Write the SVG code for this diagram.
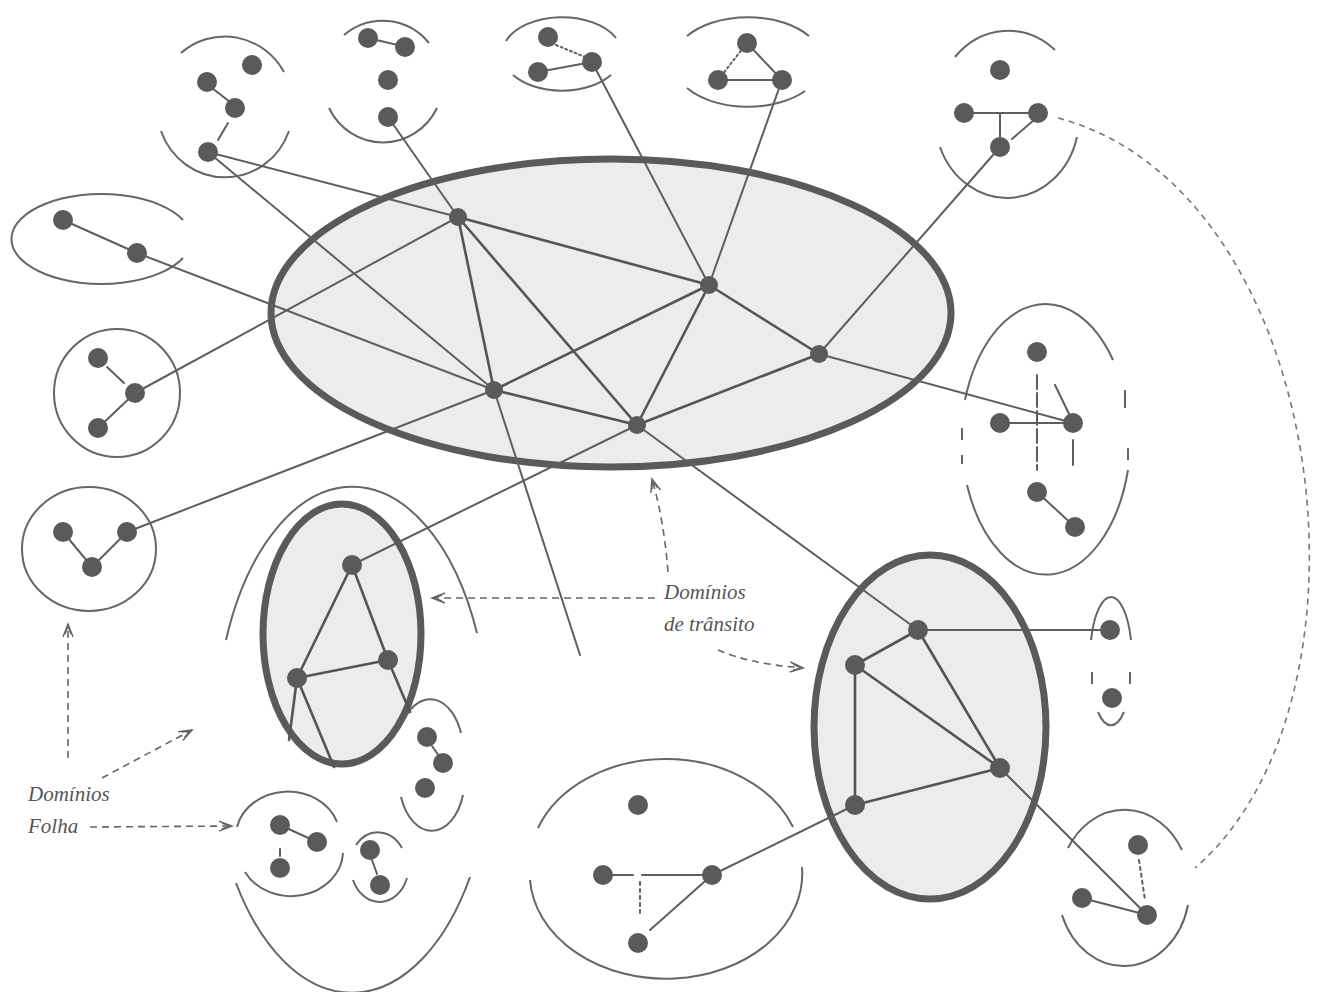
<svg xmlns="http://www.w3.org/2000/svg" width="1317" height="992" viewBox="0 0 1317 992">
<style>
.bg{fill:#ffffff}
.transit{fill:#ececec;stroke:#5a5a5a;stroke-width:7}
.leaf{fill:none;stroke:#666;stroke-width:2}
.n{fill:#5a5a5a}
.ln{stroke:#5e5e5e;stroke-width:2;fill:none;stroke-linecap:round}
.tl{stroke:#555;stroke-width:2.6;fill:none;stroke-linecap:round}
.dash{stroke:#777;stroke-width:1.6;fill:none;stroke-dasharray:6 5}
.arr{stroke:#666;stroke-width:1.6;fill:none;stroke-dasharray:7 5}
.lbl{font-family:"Liberation Serif",serif;font-style:italic;font-size:21px;fill:#555}
</style>
<defs>
<marker id="ah" markerWidth="16" markerHeight="12" refX="14" refY="6" orient="auto" markerUnits="userSpaceOnUse">
<path d="M1,1 L14,6 L1,11 M4,3 L12,6 L4,9" fill="none" stroke="#666" stroke-width="1.5"/>
</marker>
</defs>
<rect class="bg" x="0" y="0" width="1317" height="992"/>

<!-- transit domain ellipses -->
<g id="transit-main-shape"><ellipse class="transit" cx="611" cy="313" rx="340" ry="154"/></g>
<g id="transit-left-shape"><ellipse class="transit" cx="342" cy="634" rx="79" ry="130"/></g>
<g id="transit-right-shape"><ellipse class="transit" cx="930" cy="727" rx="116" ry="172"/></g>

<!-- leaf domains -->
<g id="leaf-G">
<path class="leaf" d="M181,53 A68,70 0 0 1 284,72"/>
<path class="leaf" d="M289,131 A68,70 0 0 1 161,131"/>
<path class="ln" d="M212,88 L230,102 M228,123 L218,140"/>
<circle class="n" cx="252" cy="65" r="10"/><circle class="n" cx="207" cy="82" r="10"/><circle class="n" cx="235" cy="108" r="10"/><circle class="n" cx="208" cy="152" r="10"/>
</g>
<g id="leaf-H">
<path class="leaf" d="M344,35 A60,61 0 0 1 429,43"/>
<path class="leaf" d="M437,108 A60,61 0 0 1 329,108"/>
<path class="ln" d="M372,39 L402,46"/>
<circle class="n" cx="368" cy="38" r="10"/><circle class="n" cx="405" cy="47" r="10"/><circle class="n" cx="388" cy="80" r="10"/><circle class="n" cx="388" cy="117" r="10"/>
</g>
<g id="leaf-I">
<path class="leaf" d="M506,41 A60,37 0 0 1 616,38"/>
<path class="leaf" d="M611,75 A60,37 0 0 1 513,75"/>
<path class="ln" d="M538,72 L592,62"/>
<path class="ln" d="M556,45 L585,57" stroke-dasharray="2 3"/>
<circle class="n" cx="548" cy="37" r="10"/><circle class="n" cx="538" cy="72" r="10"/><circle class="n" cx="592" cy="62" r="10"/>
</g>
<g id="leaf-J">
<path class="leaf" d="M687,36 A75,45 0 0 1 809,36"/>
<path class="leaf" d="M805,91 A75,45 0 0 1 687,88"/>
<path class="ln" d="M718,80 L782,80 M747,43 L782,80"/>
<path class="ln" d="M747,43 L718,80" stroke-dasharray="2 3"/>
<circle class="n" cx="747" cy="43" r="10"/><circle class="n" cx="718" cy="80" r="10"/><circle class="n" cx="782" cy="80" r="10"/>
</g>
<g id="leaf-K">
<path class="leaf" d="M955,57 A72,80 0 0 1 1055,50"/>
<path class="leaf" d="M1077,137 A72,80 0 0 1 940,147"/>
<path class="ln" d="M964,113 L1038,113 M1000,113 L1000,147 M1034,120 L1012,139"/>
<circle class="n" cx="1000" cy="70" r="10"/><circle class="n" cx="964" cy="113" r="10"/><circle class="n" cx="1038" cy="113" r="10"/><circle class="n" cx="1000" cy="147" r="10"/>
</g>
<g id="leaf-A">
<path class="leaf" d="M183,220 A90,45 0 1 0 183,258"/>
<path class="ln" d="M63,220 L137,253"/>
<circle class="n" cx="63" cy="220" r="10"/><circle class="n" cx="137" cy="253" r="10"/>
</g>
<g id="leaf-B">
<ellipse class="leaf" cx="117" cy="393" rx="63" ry="64"/>
<path class="ln" d="M107,367 L124,383 M135,393 L98,428"/>
<circle class="n" cx="98" cy="358" r="10"/><circle class="n" cx="135" cy="393" r="10"/><circle class="n" cx="98" cy="428" r="10"/>
</g>
<g id="leaf-C">
<ellipse class="leaf" cx="89" cy="549" rx="67" ry="62"/>
<path class="ln" d="M63,532 L92,567 L127,532"/>
<circle class="n" cx="63" cy="532" r="10"/><circle class="n" cx="127" cy="532" r="10"/><circle class="n" cx="92" cy="567" r="10"/>
</g>
<g id="leaf-L">
<path class="leaf" d="M965,400 A85,142 0 0 1 1113,360"/>
<path class="leaf" d="M1128,470 A85,142 0 0 1 967,485"/>
<path class="leaf" d="M1125,390 L1125,408 M1128,448 L1128,460 M962,428 L962,440 M962,455 L962,464"/>
<path class="ln" d="M1000,423 L1073,423 M1055,385 L1072,420 M1073,440 L1073,465 M1037,492 L1075,527"/>
<path class="ln" d="M1037,375 L1037,470" stroke-dasharray="14 4"/>
<circle class="n" cx="1037" cy="352" r="10"/><circle class="n" cx="1000" cy="423" r="10"/><circle class="n" cx="1073" cy="423" r="10"/><circle class="n" cx="1037" cy="492" r="10"/><circle class="n" cx="1075" cy="527" r="10"/>
</g>
<g id="leaf-S">
<path class="leaf" d="M1091,640 A21,62 0 0 1 1131,640"/>
<path class="leaf" d="M1124,712 A21,62 0 0 1 1098,712"/>
<path class="leaf" d="M1092,672 L1092,684 M1130,672 L1130,684"/>
<circle class="n" cx="1110" cy="630" r="10"/><circle class="n" cx="1112" cy="698" r="10"/>
</g>
<g id="leaf-T">
<path class="leaf" d="M1068,848 A66,79 0 0 1 1182,850"/>
<path class="leaf" d="M1188,905 A66,79 0 0 1 1062,915"/>
<path class="ln" d="M1082,898 L1147,915"/>
<path class="ln" d="M1139,860 L1145,900" stroke-dasharray="3 4"/>
<circle class="n" cx="1138" cy="845" r="10"/><circle class="n" cx="1082" cy="898" r="10"/><circle class="n" cx="1147" cy="915" r="10"/>
</g>
<g id="leaf-M">
<path class="leaf" d="M538,828 A136,105 0 0 1 793,827"/>
<path class="leaf" d="M802,867 A136,105 0 0 1 530,880"/>
<path class="ln" d="M603,875 L633,875 M642,875 L712,875 M712,875 L650,930"/>
<path class="ln" d="M640,882 L640,915" stroke-dasharray="3 4"/>
<circle class="n" cx="638" cy="805" r="10"/><circle class="n" cx="603" cy="875" r="10"/><circle class="n" cx="712" cy="875" r="10"/><circle class="n" cx="638" cy="943" r="10"/>
</g>
<g id="leaf-O">
<path class="leaf" d="M226,640 A137,250 0 0 1 477,633"/>
<path class="leaf" d="M470,877 A140,250 0 0 1 236,883"/>
</g>
<g id="leaf-D">
<path class="leaf" d="M237,827 A52,45 0 0 1 337,822"/>
<path class="leaf" d="M343,853 A52,45 0 0 1 245,872"/>
<path class="ln" d="M280,825 L317,842 M280,849 L280,856"/>
<circle class="n" cx="280" cy="825" r="10"/><circle class="n" cx="317" cy="842" r="10"/><circle class="n" cx="280" cy="868" r="10"/>
</g>
<g id="leaf-E">
<path class="leaf" d="M356,845 A29,36 0 0 1 402,848"/>
<path class="leaf" d="M407,878 A29,36 0 0 1 353,880"/>
<path class="ln" d="M372,860 L377,874"/>
<circle class="n" cx="370" cy="850" r="10"/><circle class="n" cx="380" cy="885" r="10"/>
</g>
<g id="leaf-F">
<path class="leaf" d="M405,718 A33,53 0 0 1 461,733"/>
<path class="leaf" d="M463,795 A33,53 0 0 1 401,797"/>
<path class="ln" d="M432,746 L439,756"/>
<circle class="n" cx="427" cy="737" r="10"/><circle class="n" cx="443" cy="763" r="10"/><circle class="n" cx="425" cy="788" r="10"/>
</g>

<!-- connectors -->
<g id="connectors">
<path class="tl" d="M458,217 L709,285 M458,217 L494,390 M458,217 L637,425 M709,285 L494,390 M709,285 L637,425 M709,285 L819,354 M494,390 L637,425 M637,425 L819,354"/>
<path class="tl" d="M352,565 L297,678 M352,565 L388,660 M297,678 L388,660 M297,678 L289,740 M297,678 L334,767 M388,660 L410,712"/>
<path class="tl" d="M918,630 L855,665 M918,630 L1000,768 M855,665 L1000,768 M855,665 L855,805 M855,805 L1000,768"/>
<path class="ln" d="M208,152 L458,217 M208,152 L494,390 M388,117 L458,217 M592,62 L709,285 M782,80 L709,285 M1000,147 L819,354 M819,354 L1073,423"/>
<path class="ln" d="M137,253 L494,390 M135,393 L458,217 M127,532 L494,390 M494,390 L580,655"/>
<path class="ln" d="M637,425 L352,565 M637,425 L918,630 M918,630 L1110,630 M1000,768 L1147,915 M855,805 L712,875"/>
<path class="dash" d="M1058,118 C1330,190 1390,700 1195,868"/>
</g>

<!-- transit routers -->
<g id="transit-main">
<circle class="n" cx="458" cy="217" r="9"/><circle class="n" cx="709" cy="285" r="9"/><circle class="n" cx="819" cy="354" r="9"/><circle class="n" cx="494" cy="390" r="9"/><circle class="n" cx="637" cy="425" r="9"/>
</g>
<g id="transit-left">
<circle class="n" cx="352" cy="565" r="10"/><circle class="n" cx="388" cy="660" r="10"/><circle class="n" cx="297" cy="678" r="10"/>
</g>
<g id="transit-right">
<circle class="n" cx="918" cy="630" r="10"/><circle class="n" cx="855" cy="665" r="10"/><circle class="n" cx="1000" cy="768" r="10"/><circle class="n" cx="855" cy="805" r="10"/>
</g>

<!-- labels and pointer arrows -->
<g id="label-folha">
<text class="lbl" x="28" y="801">Domínios</text>
<text class="lbl" x="28" y="833">Folha</text>
<path class="arr" d="M90,827 L232,826" marker-end="url(#ah)"/>
<path class="arr" d="M102,778 L192,730" marker-end="url(#ah)"/>
<path class="arr" d="M68,758 L68,624" marker-end="url(#ah)"/>
</g>
<g id="label-transito">
<text class="lbl" x="664" y="599">Domínios</text>
<text class="lbl" x="664" y="631">de trânsito</text>
<path class="arr" d="M655,598 L432,598" marker-end="url(#ah)"/>
<path class="arr" d="M668,572 Q664,520 652,479" marker-end="url(#ah)"/>
<path class="arr" d="M718,650 Q750,664 803,668" marker-end="url(#ah)"/>
</g>
</svg>
